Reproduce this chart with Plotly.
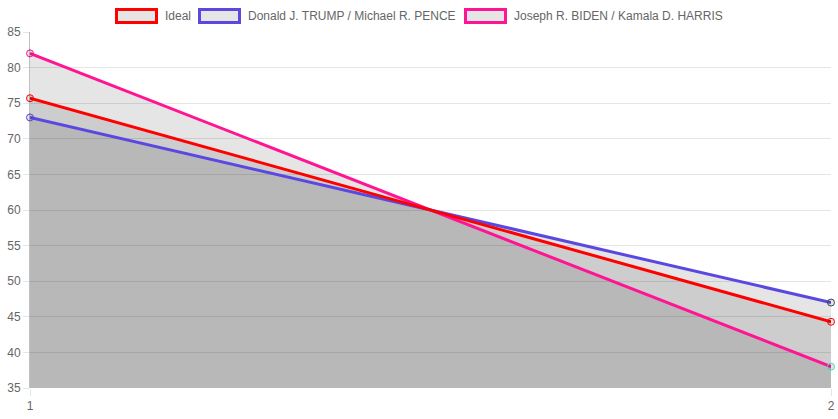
import plotly.graph_objects as go

# x labels and series values
labels = [1, 2]
ideal = [75.7, 44.3]
trump = [73, 47]
biden = [82, 38]

names = ["Ideal", "Donald J. TRUMP / Michael R. PENCE", "Joseph R. BIDEN / Kamala D. HARRIS"]
colors = ["#ff0000", "#5b48e0", "#ff1493"]
point_colors = [["#ff0000", "#ff0000"], ["#5b48e0", "#2f4f4f"], ["#ff1493", "#40e0d0"]]
values = [ideal, trump, biden]

fill = "rgba(0,0,0,0.1)"

# plot area in pixels (margins below)
L, R, T, B = 30, 7, 32, 31
W, H = 838, 419
pw, ph = W - L - R, H - T - B


def px(x):
    return (x - L) / pw


def py(y):
    return (H - B - y) / ph


fig = go.Figure()

# fills first (chart.js paints all fills below the lines)
for i in [2, 1, 0]:
    fig.add_trace(go.Scatter(x=labels, y=values[i],
                             mode="none",
                             fill="tozeroy",
                             fillcolor=fill,
                             showlegend=False,
                             hoverinfo="skip"))

# lines, first dataset on top
for i in [2, 1, 0]:
    fig.add_trace(go.Scatter(x=labels,
                             y=values[i],
                             mode="lines+markers",
                             line=dict(color=colors[i], width=3),
                             marker=dict(size=7, color=fill,
                                         line=dict(color=point_colors[i], width=1)),
                             name=names[i],
                             showlegend=False,
                             cliponaxis=False))

# chart.js style legend: boxes + labels
box_left = [116.5, 199.5, 465.5]
for i in range(3):
    x0 = box_left[i]
    fig.add_shape(type="rect", xref="paper", yref="paper",
                  x0=px(x0), x1=px(x0 + 40), y0=py(22.5), y1=py(9.5),
                  fillcolor=fill, line=dict(color=colors[i], width=3))
    fig.add_annotation(xref="paper", yref="paper", x=px(x0 + 46), y=py(16),
                       xanchor="left", yanchor="middle", showarrow=False,
                       text=names[i], font=dict(size=12, color="#666"))

fig.update_layout(width=W, height=H,
                  plot_bgcolor="#fff",
                  paper_bgcolor="#fff",
                  font=dict(family="Liberation Sans, Arial, sans-serif", size=12, color="#666"),
                  margin=dict(l=L, r=R, t=T, b=B),
                  showlegend=False,
                  xaxis=dict(range=[1, 2], tickvals=labels, ticktext=[str(v) for v in labels],
                             automargin=False,
                             showgrid=True, gridcolor="rgba(0,0,0,0.1)",
                             ticks="outside", ticklen=7, tickcolor="rgba(0,0,0,0.1)",
                             zeroline=False, showline=False),
                  yaxis=dict(range=[35, 85], dtick=5, automargin=False,
                             showgrid=True, gridcolor="rgba(0,0,0,0.1)",
                             ticks="outside", ticklen=6, tickcolor="rgba(0,0,0,0.1)",
                             zeroline=False, showline=True, linecolor="rgba(0,0,0,0.25)"))

fig.write_html("out.html", config={"displayModeBar": False},
               post_script="document.body.style.margin='0';")
